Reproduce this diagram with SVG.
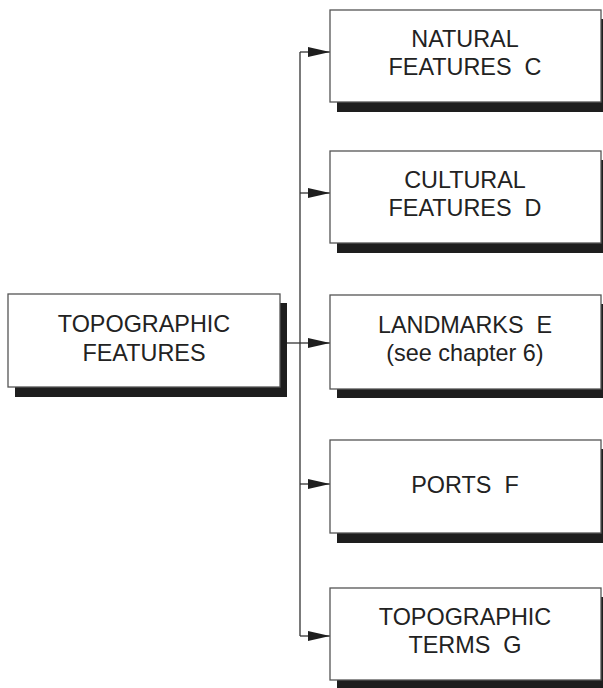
<svg xmlns="http://www.w3.org/2000/svg" width="603" height="688" viewBox="0 0 603 688">
<style>
.shadow{fill:#1e1e1e}
.box{fill:#fff;stroke:#555;stroke-width:1.3}
.t{font-family:"Liberation Sans",Arial,sans-serif;font-size:23.4px;fill:#222;text-anchor:middle;white-space:pre}
.c{fill:none;stroke:#333;stroke-width:1.3}
</style>
<defs>
<marker id="ah" markerWidth="22" markerHeight="12" refX="22" refY="6" orient="auto" markerUnits="userSpaceOnUse">
<path d="M0,1 L22,6 L0,11 Z" fill="#1e1e1e"/>
</marker>
</defs>
<g id="connectors">
<path class="c" d="M300,52 L300,636"/>
<path class="c" d="M280,343 L300,343"/>
<path class="c" d="M300,52 L330,52" marker-end="url(#ah)"/>
<path class="c" d="M300,193 L330,193" marker-end="url(#ah)"/>
<path class="c" d="M300,343 L330,343" marker-end="url(#ah)"/>
<path class="c" d="M300,484 L330,484" marker-end="url(#ah)"/>
<path class="c" d="M300,636 L330,636" marker-end="url(#ah)"/>
</g>
<g id="topographic-features">
<rect class="shadow" x="15" y="303" width="272" height="94"/>
<rect class="box" x="8" y="294" width="272" height="93"/>
<text class="t" x="144" y="332">TOPOGRAPHIC</text>
<text class="t" x="144" y="361">FEATURES</text>
</g>
<g id="natural-features">
<rect class="shadow" x="337" y="19" width="272" height="93"/>
<rect class="box" x="330" y="10" width="271" height="92"/>
<text class="t" x="465" y="47">NATURAL</text>
<text class="t" x="465" y="75">FEATURES&#160; C</text>
</g>
<g id="cultural-features">
<rect class="shadow" x="337" y="160" width="272" height="93"/>
<rect class="box" x="330" y="151" width="271" height="92"/>
<text class="t" x="465" y="188">CULTURAL</text>
<text class="t" x="465" y="216">FEATURES&#160; D</text>
</g>
<g id="landmarks">
<rect class="shadow" x="337" y="304" width="272" height="94"/>
<rect class="box" x="330" y="295" width="271" height="94"/>
<text class="t" x="465" y="333">LANDMARKS&#160; E</text>
<text class="t" x="465" y="361">(see chapter 6)</text>
</g>
<g id="ports">
<rect class="shadow" x="337" y="449" width="272" height="94"/>
<rect class="box" x="330" y="440" width="271" height="93"/>
<text class="t" x="465" y="493">PORTS&#160; F</text>
</g>
<g id="topographic-terms">
<rect class="shadow" x="337" y="597" width="272" height="93"/>
<rect class="box" x="330" y="588" width="271" height="92"/>
<text class="t" x="465" y="625">TOPOGRAPHIC</text>
<text class="t" x="465" y="653">TERMS&#160; G</text>
</g>
</svg>
